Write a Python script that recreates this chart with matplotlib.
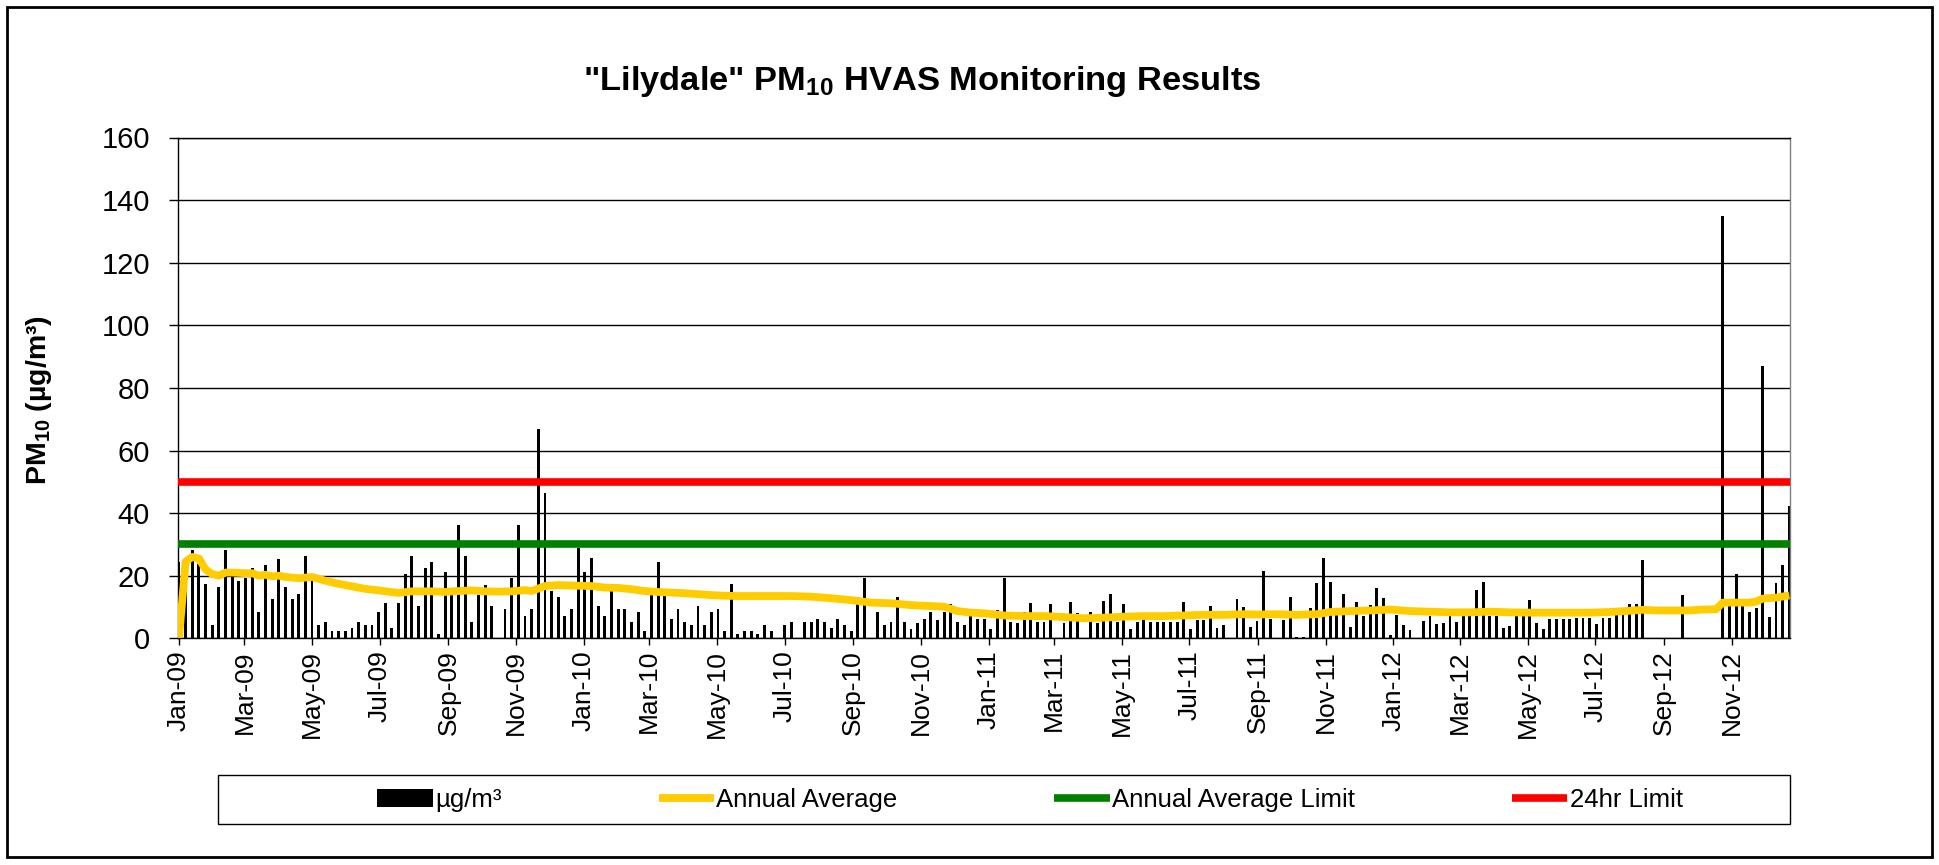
import numpy as np
import pandas as pd
import matplotlib
matplotlib.use("Agg")
import matplotlib.pyplot as plt
import matplotlib.dates as mdates
from matplotlib.patches import Rectangle

# ---------------- data ----------------
start_date = "2009-01-01"
sample_interval_days = 6
nan = np.nan

pm10 = [
    24.4, 25.0, 28.3, 23.6, 17.3, 4.3, 16.4, 28.3, 19.6, 18.3,      # k0-9
    19.2, 22.4, 8.3, 23.4, 12.4, 25.3, 16.4, 12.4, 14.3, 26.4,      # k10-19
    20.4, 4.3, 5.3, 2.3, 2.3, 2.3, 3.4, 5.3, 4.3, 4.3,              # k20-29
    8.3, 11.3, 3.4, 11.3, 20.4, 26.4, 10.4, 22.4, 24.5, 1.3,        # k30-39
    21.3, 16.0, 36.2, 26.3, 5.3, 13.8, 17.0, 10.3, nan, 9.3,        # k40-49
    19.4, 36.2, 7.2, 9.3, 67.0, 46.3, 15.1, 13.3, 7.2, 9.3,         # k50-59
    29.0, 21.3, 25.5, 10.3, 7.2, 17.0, 9.3, 9.3, 5.3, 8.3,          # k60-69
    2.3, 16.2, 24.3, 13.5, 6.3, 9.3, 5.3, 4.3, 10.3, 4.3,           # k70-79
    8.3, 9.3, 2.3, 17.3, 1.3, 2.3, 2.3, 1.3, 4.3, 2.3,              # k80-89
    nan, 4.3, 5.3, nan, 5.3, 5.3, 6.3, 5.3, 3.3, 6.3,               # k90-99
    4.3, 2.3, 13.3, 19.4, nan, 8.3, 4.3, 5.3, 13.3, 5.3,            # k100-109
    2.9, 4.8, 6.3, 8.3, 5.9, 8.3, 10.9, 5.3, 4.3, 9.3,              # k110-119
    6.3, 6.3, 2.9, 9.1, 19.4, 5.3, 4.8, 8.5, 11.3, 5.3,             # k120-129
    5.3, 10.9, nan, 5.0, 11.7, 8.1, nan, 8.5, 4.8, 11.9,            # k130-139
    14.0, 5.3, 11.1, 2.9, 5.3, 8.1, 5.3, 5.3, 5.3, 5.3,             # k140-149
    5.3, 11.7, 2.9, 5.9, 5.9, 10.3, 3.2, 4.4, nan, 12.6,            # k150-159
    10.1, 3.5, 5.5, 21.5, 6.1, nan, 6.0, 13.1, 0.5, 0.5,            # k160-169
    9.8, 17.7, 25.6, 18.1, 9.8, 14.3, 3.7, 11.6, 7.1, 10.6,         # k170-179
    16.2, 13.0, 1.0, 7.5, 4.4, 2.8, nan, 5.5, 7.1, 4.6,             # k180-189
    4.9, 7.1, 5.2, 7.1, 7.1, 15.3, 17.9, 7.1, 7.1, 3.2,             # k190-199
    3.8, 7.1, 7.0, 12.2, 5.0, 2.9, 6.1, 6.1, 6.1, 6.1,              # k200-209
    6.6, 6.6, 6.6, 4.5, 6.6, 6.6, 9.5, 9.8, 10.9, 11.1,             # k210-219
    25.0, nan, nan, nan, nan, nan, 13.8, nan, nan, nan,             # k220-229
    nan, nan, 135.0, 12.5, 20.7, 10.3, 8.5, 9.8, 87.0, 6.8,         # k230-239
    17.8, 23.4, 42.3,                                               # k240-242
]

# annual average line, read at sample indices
avg_index = [0, 1, 2, 3, 4, 5, 6, 7, 8, 10, 11, 12, 13, 14, 15, 16, 18, 20,
             22, 24, 26, 28, 30, 33, 35, 38, 40, 42, 44, 46, 48, 50, 52, 53,
             55, 57, 60, 62, 64, 66, 68, 70, 72, 74, 76, 78, 80, 82, 84, 88,
             92, 95, 98, 101, 104, 107, 110, 113, 115, 117, 119, 121, 124,
             127, 130, 133, 136, 139, 142, 145, 148, 151, 154, 157, 160, 162,
             165, 168, 171, 173, 176, 179, 182, 185, 188, 191, 194, 197, 200,
             203, 206, 209, 212, 215, 218, 220, 222, 225, 227, 229, 231, 232,
             234, 236, 237, 238, 240, 242]
avg_values = [0.0, 24.5, 26.0, 25.5, 22.0, 20.5, 20.0, 21.0, 21.0, 20.8, 20.8,
              20.0, 20.3, 19.8, 20.0, 19.6, 19.2, 19.6,
              18.4, 17.4, 16.6, 15.8, 15.3, 14.5, 15.0, 15.0, 14.8, 15.1, 15.3,
              15.0, 14.9, 15.0, 15.4, 15.1,
              16.7, 17.0, 16.8, 16.7, 16.2, 16.1, 15.7, 15.1, 14.8, 14.6, 14.4,
              14.1, 13.8, 13.6, 13.5, 13.5,
              13.5, 13.3, 12.8, 12.2, 11.4, 11.2, 10.6, 10.3, 10.1, 8.7, 8.2,
              8.0, 7.3,
              7.1, 7.1, 6.8, 6.4, 6.6, 6.9, 7.1, 7.1, 7.3, 7.5, 7.5, 7.7, 7.6,
              7.7, 7.5, 7.7, 8.4, 8.7, 8.9, 9.2, 8.7, 8.5, 8.3, 8.3, 8.5, 8.3,
              8.2, 8.2, 8.2, 8.2, 8.4, 8.8, 9.1, 8.9, 8.9, 8.9, 9.2, 9.3, 11.4,
              11.4, 11.4, 11.7, 12.7, 13.0, 13.7]

annual_average_limit = 30
daily_limit = 50
y_ticks = [0, 20, 40, 60, 80, 100, 120, 140, 160]
tick_months = [1, 3, 5, 7, 9, 11]
legend_labels = ["µg/m³", "Annual Average", "Annual Average Limit", "24hr Limit"]
title_text = '"Lilydale" PM$_{\\mathbf{10}}$ HVAS Monitoring Results'
ylabel_text = "PM$_{\\mathbf{10}}$ (µg/m³)"

# ---------------- styling ----------------
plt.rcParams["font.family"] = ["Liberation Sans", "DejaVu Sans"]
plt.rcParams["mathtext.fontset"] = "custom"
plt.rcParams["mathtext.rm"] = "Liberation Sans"
plt.rcParams["mathtext.bf"] = "Liberation Sans:bold"
plt.rcParams["mathtext.it"] = "Liberation Sans:italic"

W, H = 1940, 865
fig = plt.figure(figsize=(W / 100, H / 100), dpi=100)

left, right, top, bottom = 178.3, 1790, 137.5, 638.3
ax = fig.add_axes([left / W, 1 - bottom / H, (right - left) / W, (bottom - top) / H])

pm = np.array(pm10, dtype=float)
dates = pd.date_range(start_date, periods=len(pm), freq=f"{sample_interval_days}D")
xnum = mdates.date2num(dates.to_pydatetime())
mask = ~np.isnan(pm)

bars = ax.bar(xnum[mask], pm[mask], width=2.6, color="black", linewidth=0,
              zorder=2, label=legend_labels[0])
avg_line, = ax.plot(xnum[np.array(avg_index)], avg_values, color="#FFCC00", lw=5.6,
                    solid_joinstyle="round", solid_capstyle="butt", zorder=5,
                    label=legend_labels[1])
g_line = ax.axhline(annual_average_limit, color="#008000", lw=5.5, zorder=4,
                    solid_capstyle="butt", label=legend_labels[2])
r_line = ax.axhline(daily_limit, color="#FF0000", lw=5.5, zorder=4,
                    solid_capstyle="butt", label=legend_labels[3])

ax.set_xlim(xnum[0] - 0.6, xnum[-1] + 0.6)
ax.set_ylim(0, 160)
ax.set_yticks(y_ticks)
ax.yaxis.grid(True, color="black", lw=1.0, zorder=0)
ax.set_axisbelow(True)

ax.xaxis.set_major_locator(mdates.MonthLocator(bymonth=tick_months))
ax.xaxis.set_major_formatter(mdates.DateFormatter("%b-%y"))

ax.tick_params(axis="y", direction="out", length=6.5, width=1.0, pad=14,
               labelsize=21, colors="black")
ax.tick_params(axis="x", direction="out", length=5, width=1.0, pad=3.5,
               labelsize=19, colors="black")
plt.setp(ax.get_xticklabels(), rotation=90, ha="center", va="top")

for s in ["left", "bottom", "top"]:
    ax.spines[s].set_color("black")
    ax.spines[s].set_linewidth(1.0)
ax.spines["right"].set_color("#808080")
ax.spines["right"].set_linewidth(1.0)

# title and y label
fig.text(922 / W, 1 - 90 / H, title_text, ha="center", va="baseline",
         fontsize=24.8, fontweight="bold")
fig.text(39 / W, 1 - 400 / H, ylabel_text, ha="center", va="center",
         rotation=90, fontsize=20.5, fontweight="bold")

# legend
leg = fig.legend(handles=[bars, avg_line, g_line, r_line], labels=legend_labels,
                 loc="center", bbox_to_anchor=(1030 / W, 1 - 800 / H), ncol=4,
                 frameon=False, fontsize=18.5, handlelength=2.15,
                 handletextpad=0.1, columnspacing=6.1)

# legend box and outer border
fig.add_artist(Rectangle((218 / W, 1 - 824 / H), (1790 - 218) / W, 49 / H,
                         transform=fig.transFigure, fill=False,
                         edgecolor="black", lw=1.0))
fig.add_artist(Rectangle((7 / W, 1 - 857 / H), (1932 - 7) / W, 850 / H,
                         transform=fig.transFigure, fill=False,
                         edgecolor="black", lw=2.0))

fig.savefig("out.png", dpi=100)
